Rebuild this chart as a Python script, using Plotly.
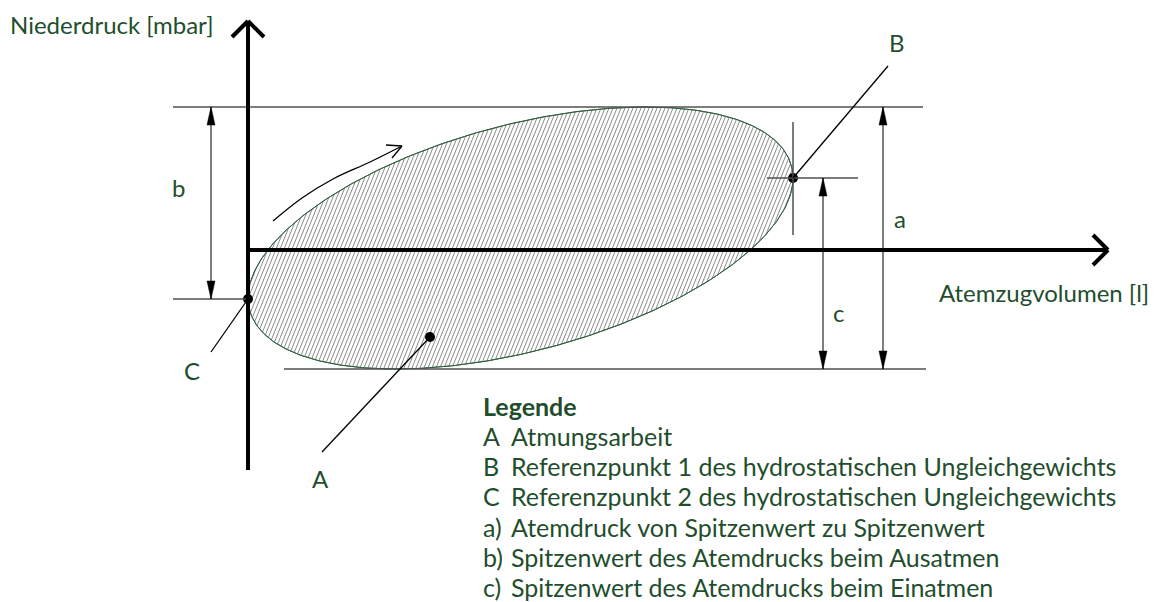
import numpy as np
import plotly.graph_objects as go

# ---- diagram values (volume / pressure units, origin at axis crossing) ----
VOL_C, VOL_B = 0, 545            # volumes of reference points C and B
P_MAX, P_MIN = 143, -119         # peak pressures (exhale / inhale)
P_B, P_C = 72, -49               # pressure at reference points B and C
P_A = -87                        # marker for area A
VOL_A = 182
AXIS_X_END, AXIS_Y_END, AXIS_Y_START = 860, 229, -220

y_label = "Niederdruck [mbar]"
x_label = "Atemzugvolumen [l]"
legend_title = "Legende"
legend_keys = ["A", "B", "C", "a)", "b)", "c)"]
legend_texts = ["Atmungsarbeit",
                "Referenzpunkt 1 des hydrostatischen Ungleichgewichts",
                "Referenzpunkt 2 des hydrostatischen Ungleichgewichts",
                "Atemdruck von Spitzenwert zu Spitzenwert",
                "Spitzenwert des Atemdrucks beim Ausatmen",
                "Spitzenwert des Atemdrucks beim Einatmen"]

# rotation arrow path (volume, pressure)
rot_x = [25, 54, 85, 122, 154]
rot_y = [29, 52, 71, 88, 104]

GREEN = "#1f4e2d"
FONT = "Lato"
FS = 24
FS_LEG = 25

# ---- ellipse derived from the reference values ----
cx, cy = (VOL_C + VOL_B) / 2, (P_MAX + P_MIN) / 2
X = (VOL_B - VOL_C) / 2
Y = (P_MAX - P_MIN) / 2
off = P_B - cy
Sxy = off * X
L21 = Sxy / X
L22 = np.sqrt(Y ** 2 - L21 ** 2)
t = np.linspace(0, 2 * np.pi, 400)
ex = cx + X * np.cos(t)
ey = cy + L21 * np.cos(t) + L22 * np.sin(t)

# hatch lines clipped to the ellipse
S = np.array([[X ** 2, Sxy], [Sxy, Y ** 2]])
Si = np.linalg.inv(S)
alpha = np.deg2rad(68)
d = np.array([np.cos(alpha), np.sin(alpha)])
e = np.array([1.0, 0.0])
hx, hy = [], []
for h in np.arange(-420, 420, 4.0):
    a = d @ Si @ d
    b = 2 * h * (e @ Si @ d)
    c = h * h * (e @ Si @ e) - 1
    disc = b * b - 4 * a * c
    if disc <= 0:
        continue
    s1 = (-b - np.sqrt(disc)) / (2 * a)
    s2 = (-b + np.sqrt(disc)) / (2 * a)
    for s in (s1, s2):
        hx.append(cx + h + s * d[0])
        hy.append(cy + s * d[1])
    hx.append(None)
    hy.append(None)

fig = go.Figure()
fig.add_trace(go.Scatter(x=ex, y=ey, mode="lines", fill="toself", fillcolor="white",
                         line=dict(color="#2f6040", width=1), hoverinfo="skip"))
fig.add_trace(go.Scatter(x=hx, y=hy, mode="lines", line=dict(color="#8c8c8c", width=1),
                         hoverinfo="skip"))
fig.add_trace(go.Scatter(x=ex, y=ey, mode="lines",
                         line=dict(color="#2f6040", width=1), hoverinfo="skip"))

shapes = []


def line(x0, y0, x1, y1, color="black", width=1.0):
    shapes.append(dict(type="line", x0=x0, y0=y0, x1=x1, y1=y1, xref="x", yref="y",
                       line=dict(color=color, width=width), layer="above"))


def tri(xt, yt, direction, length=18, half=4):
    yb = yt - direction * length
    shapes.append(dict(type="path", xref="x", yref="y",
                       path=f"M {xt} {yt} L {xt - half} {yb} L {xt + half} {yb} Z",
                       fillcolor="black", line=dict(color="black", width=0.5), layer="above"))


GREY = "#505050"
# level lines
line(-75, P_MAX, 675, P_MAX, GREY, 1.5)
line(36, P_MIN, 678, P_MIN, GREY, 1.5)
line(-75, P_C, VOL_C, P_C, GREY, 1.5)
# B crosshair
line(VOL_B, 128, VOL_B, 15, GREY, 1.5)
line(519, P_B, 610, P_B, GREY, 1.5)

# dimension arrows
for xd, ytop, ybot in [(-37, P_MAX, P_C), (575, P_B, P_MIN), (635, P_MAX, P_MIN)]:
    line(xd, ytop, xd, ybot, "black", 1.0)
    tri(xd, ytop, 1)
    tri(xd, ybot, -1)

# axes
line(0, AXIS_Y_START, 0, AXIS_Y_END - 1, "black", 4)
line(-16, AXIS_Y_END - 16, 0, AXIS_Y_END, "black", 4)
line(16, AXIS_Y_END - 16, 0, AXIS_Y_END, "black", 4)
line(0, 0, AXIS_X_END - 1, 0, "black", 4)
line(AXIS_X_END - 15, 15, AXIS_X_END, 0, "black", 4)
line(AXIS_X_END - 15, -15, AXIS_X_END, 0, "black", 4)

# leader lines
line(VOL_B, P_B, 640, 184, "black", 1.3)
line(VOL_C, P_C, -37, -102, "black", 1.3)
line(VOL_A, P_A, 74, -202, "black", 1.3)

# rotation arrow
fig.add_trace(go.Scatter(x=rot_x, y=rot_y, mode="lines", line=dict(color="black", width=1.3, shape="spline"),
                         hoverinfo="skip"))
line(138, 105, rot_x[-1], rot_y[-1], "black", 1.3)
line(144, 92, rot_x[-1], rot_y[-1], "black", 1.3)

# points
fig.add_trace(go.Scatter(x=[VOL_B, VOL_C, VOL_A], y=[P_B, P_C, P_A], mode="markers",
                         marker=dict(color="black", size=10), hoverinfo="skip"))

ann = []


def text(x, y, s, size=FS, anchor="center", bold=False):
    ann.append(dict(x=x, y=y, xref="x", yref="y", text=f"<b>{s}</b>" if bold else s,
                    showarrow=False, xanchor=anchor, yanchor="middle",
                    font=dict(family=FONT, size=size, color=GREEN)))


ann.append(dict(x=0, y=1, xref="paper", yref="paper", text=y_label, showarrow=False,
                xanchor="left", yanchor="top",
                font=dict(family=FONT, size=FS, color=GREEN)))
text(689, -42, x_label, anchor="left")
text(-70, 63, "b")
text(590, -62, "c")
text(652, 32, "a")
text(649, 208, "B")
text(-56, -120, "C")
text(72, -228, "A")

lx = 233
text(lx, -156, legend_title, size=FS_LEG, anchor="left", bold=True)
ys = [-186, -216, -246, -277, -307, -337]
for k, s, yy in zip(legend_keys, legend_texts, ys):
    text(lx, yy, k, size=FS_LEG, anchor="left")
    text(lx + 28, yy, s, size=FS_LEG, anchor="left")

# page has an 8px body margin: figure starts at (8, 8)
fig.update_layout(
    width=1148, height=594, margin=dict(l=0, r=0, t=0, b=0),
    plot_bgcolor="white", paper_bgcolor="white", showlegend=False,
    xaxis=dict(range=[-240, 908], visible=False, fixedrange=True),
    yaxis=dict(range=[-352, 242], visible=False, fixedrange=True),
    shapes=shapes, annotations=ann,
)
fig.write_html("out.html")
